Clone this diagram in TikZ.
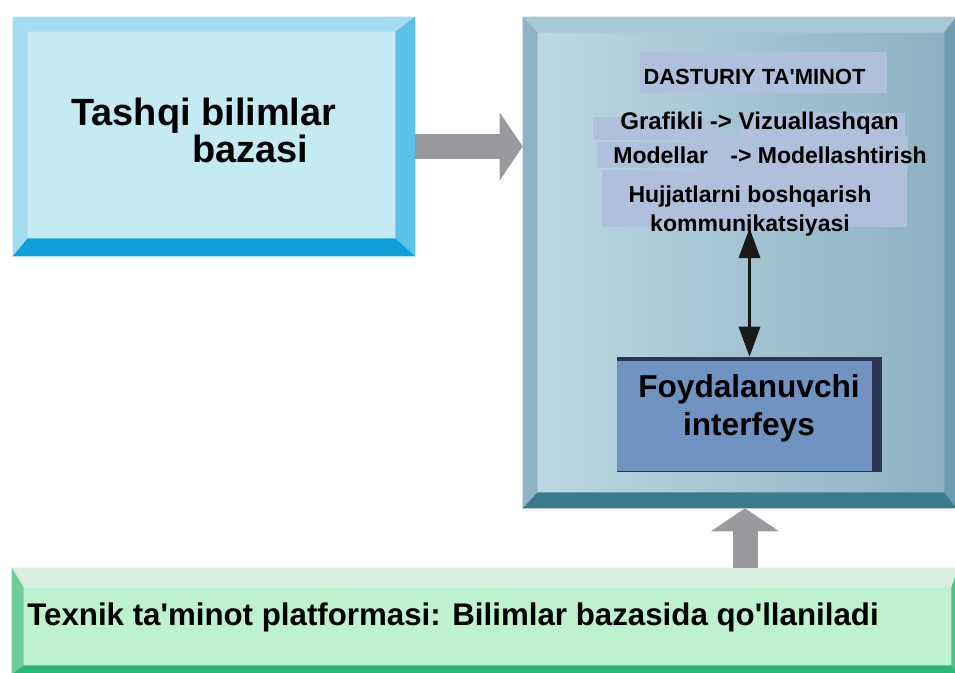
\documentclass[tikz,border=0pt]{standalone}
\usepackage{fontspec}
\setmainfont{Liberation Sans}
\usepackage{tikz}
\usepackage{xcolor}
\usetikzlibrary{calc,arrows.meta,positioning}

\definecolor{tbface}{HTML}{C6EAF3}
\definecolor{tbtop}{HTML}{A6DCF0}
\definecolor{tbleft}{HTML}{A3DBF1}
\definecolor{tbright}{HTML}{5CC1E7}
\definecolor{tbbot}{HTML}{0FA0D9}
\definecolor{swlight}{HTML}{BDD8E4}
\definecolor{swdark}{HTML}{8CB0C2}
\definecolor{swtop}{HTML}{A9C8D5}
\definecolor{swleft}{HTML}{8DB3C4}
\definecolor{swright}{HTML}{6F9BB0}
\definecolor{swbot}{HTML}{3B7A8C}
\definecolor{hlblue}{HTML}{AFC0DC}
\definecolor{fiface}{HTML}{7093C1}
\definecolor{fidark}{HTML}{2B3556}
\definecolor{tpface}{HTML}{BEF1CE}
\definecolor{tptop}{HTML}{D7EEE0}
\definecolor{tpleft}{HTML}{6ECD98}
\definecolor{tpright}{HTML}{52C28C}
\definecolor{tpbot}{HTML}{2CB579}
\definecolor{arrowgray}{HTML}{9A9A9E}

\begin{document}
\begin{tikzpicture}[x=0.02cm,y=-0.02cm,
  box/.style={rectangle,inner sep=0pt,draw=none},
  txt/.style={inner sep=0pt,text=black,font=\bfseries},
  grayarrow/.style={draw=arrowgray,line width=0.5cm,-{Triangle[length=0.46cm,width=1.36cm,line width=0pt]}},
  dblarrow/.style={draw=black!90,line width=0.06cm,{Triangle[length=0.6cm,width=0.44cm,line width=0pt]}-{Triangle[length=0.6cm,width=0.44cm,line width=0pt]}}]
\useasboundingbox (0,0) rectangle (955,672);

% tashqi bilimlar bazasi
\node[box,fill=tbface,minimum width=8.04cm,minimum height=4.78cm] (tb) at (214,136.5) {};
\fill[tbtop] (tb.north west) -- (tb.north east) -- ([shift={(-20,15)}]tb.north east) -- ([shift={(15,15)}]tb.north west) -- cycle;
\fill[tbleft] (tb.north west) -- ([shift={(15,15)}]tb.north west) -- ([shift={(15,-18)}]tb.south west) -- (tb.south west) -- cycle;
\fill[tbright] (tb.north east) -- (tb.south east) -- ([shift={(-20,-18)}]tb.south east) -- ([shift={(-20,15)}]tb.north east) -- cycle;
\fill[tbbot] (tb.south west) -- (tb.south east) -- ([shift={(-20,-18)}]tb.south east) -- ([shift={(15,-18)}]tb.south west) -- cycle;
\node[txt,anchor=north west,align=left,font=\fontsize{21.6}{19.9}\selectfont\bfseries] (tbtxt) at (71,98) {Tashqi bilimlar\\\hspace*{2.42cm}bazasi};

% dasturiy ta'minot
\node[box,left color=swlight,right color=swdark,minimum width=8.66cm,minimum height=9.82cm] (sw) at (739.5,262.5) {};
\fill[swtop] (sw.north west) -- (sw.north east) -- ([shift={(-12,16)}]sw.north east) -- ([shift={(15,16)}]sw.north west) -- cycle;
\fill[swleft] (sw.north west) -- ([shift={(15,16)}]sw.north west) -- ([shift={(15,-16)}]sw.south west) -- (sw.south west) -- cycle;
\fill[swright] (sw.north east) -- (sw.south east) -- ([shift={(-12,-16)}]sw.south east) -- ([shift={(-12,16)}]sw.north east) -- cycle;
\fill[swbot] (sw.south west) -- (sw.south east) -- ([shift={(-12,-16)}]sw.south east) -- ([shift={(15,-16)}]sw.south west) -- cycle;

\fill[hlblue] (640,52) rectangle (887,93);
\fill[hlblue] (593,117) rectangle (717,140);
\fill[hlblue] (740,113) rectangle (905,136);
\fill[hlblue] (597,142) rectangle (720,168);
\fill[hlblue] (720,136) rectangle (908,170);
\fill[hlblue] (602,170) rectangle (907,227);

\node[txt,anchor=base,font=\fontsize{12.5}{15}\selectfont\bfseries] (dst) at (754.5,85) {DASTURIY TA\textquotesingle MINOT};
\node[txt,anchor=base west,font=\fontsize{13.7}{16}\selectfont\bfseries] (graf) at (620,130) {Grafikli -> Vizuallashqan};
\node[txt,anchor=base west,font=\fontsize{13.1}{16}\selectfont\bfseries] (mod) at (613,163) {Modellar};
\node[txt,anchor=base west,font=\fontsize{13.1}{16}\selectfont\bfseries] (modl) at (730,163) {-> Modellashtirish};
\node[txt,anchor=north,align=center,font=\fontsize{13.1}{17}\selectfont\bfseries] (huj) at (750,185) {Hujjatlarni boshqarish\\kommunikatsiyasi};

% foydalanuvchi interfeys
\node[box,fill=fiface,minimum width=5.3cm,minimum height=2.28cm] (fi) at (749.5,414) {};
\fill[fidark] (fi.north west) rectangle ([shift={(0,4)}]fi.north east);
\fill[fidark] ([shift={(-10,0)}]fi.north east) rectangle (fi.south east);
\draw[fidark,line width=0.6pt] (fi.south west) -- (fi.south east);
\node[txt,anchor=north,align=center,font=\fontsize{18}{21.6}\selectfont\bfseries] (fitxt) at (749,374) {Foydalanuvchi\\interfeys};

\coordinate (hujtip) at ([yshift=0.18cm]huj.south);
\draw[dblarrow] (hujtip -| fi.north) -- (fi.north);

% texnik ta'minot platformasi
\node[box,fill=tpface,minimum width=18.92cm,minimum height=2.12cm] (tp) at (485,621) {};
\fill[tptop] (tp.north west) -- (tp.north east) -- ([shift={(-7,20)}]tp.north east) -- ([shift={(12,20)}]tp.north west) -- cycle;
\fill[tpleft] (tp.north west) -- ([shift={(12,20)}]tp.north west) -- ([shift={(12,-9)}]tp.south west) -- (tp.south west) -- cycle;
\fill[tpright] (tp.north east) -- (tp.south east) -- ([shift={(-7,-9)}]tp.south east) -- ([shift={(-7,20)}]tp.north east) -- cycle;
\fill[tpbot] (tp.south west) -- (tp.south east) -- ([shift={(-7,-9)}]tp.south east) -- ([shift={(12,-9)}]tp.south west) -- cycle;
\node[txt,anchor=base west,font=\fontsize{17.8}{20}\selectfont\bfseries] (tptxt) at (27,625) {Texnik ta\textquotesingle minot platformasi: Bilimlar bazasida qo\textquotesingle llaniladi};

% arrows
\draw[grayarrow] ([yshift=-0.2cm]tb.east) -- ([yshift=-0.2cm]tb.east -| sw.west);
\draw[grayarrow] ([xshift=-0.09cm]fi.south |- tp.north) -- ([xshift=-0.09cm]fi.south |- sw.south);
\end{tikzpicture}
\end{document}
